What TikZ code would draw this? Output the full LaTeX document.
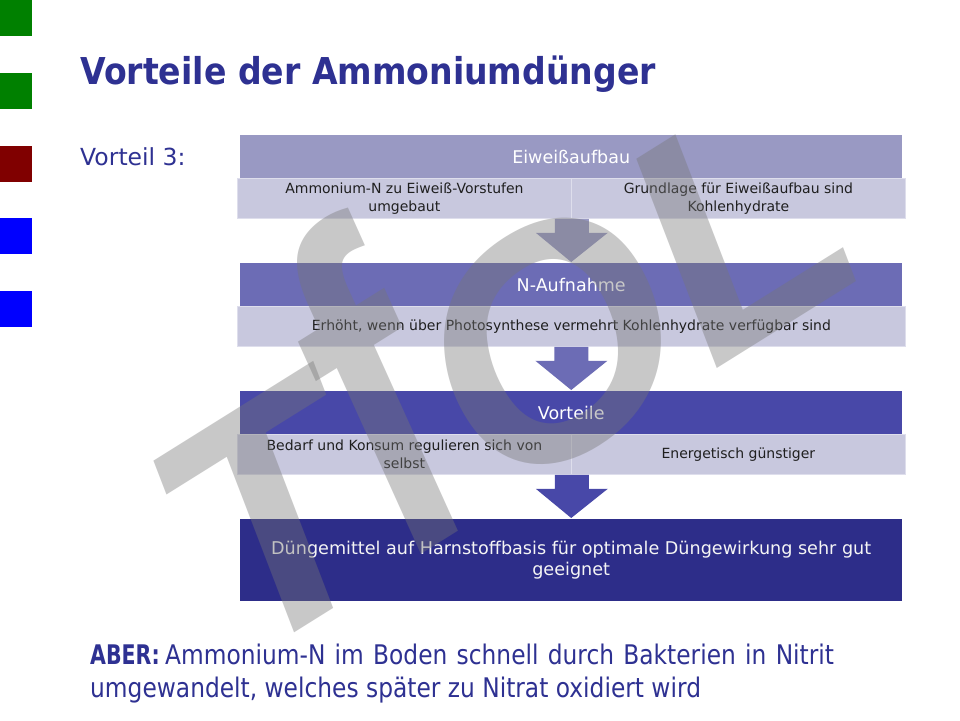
\documentclass[tikz,border=0pt]{standalone}
\usepackage{fontspec}
\setmainfont{DejaVu Sans}
\newfontfamily\titlefont[FakeStretch=0.895]{DejaVu Sans}
\newfontfamily\abreg[FakeStretch=0.864]{DejaVu Sans}
\newfontfamily\abbold[FakeStretch=0.76]{DejaVu Sans}
\newfontfamily\wmfont{Liberation Sans}
\usetikzlibrary{calc}
\definecolor{titleblue}{RGB}{46,49,146}
\definecolor{hA}{RGB}{153,153,195}
\definecolor{hB}{RGB}{108,108,181}
\definecolor{hC}{RGB}{72,72,168}
\definecolor{hD}{RGB}{45,45,137}
\definecolor{subc}{RGB}{200,200,222}
\definecolor{subline}{RGB}{222,222,236}
\definecolor{sqgreen}{RGB}{0,128,0}
\definecolor{sqred}{RGB}{128,0,0}
\definecolor{sqblue}{RGB}{0,0,255}
\definecolor{wmgray}{RGB}{118,118,118}
\newcommand\blockarr[3]{%
  \fill[#1] ([xshift=-17pt]#2) -- ([xshift=17pt]#2) -- ([xshift=17pt,yshift=-14pt]#2)
    -- ([xshift=36pt,yshift=-14pt]#2) -- ([yshift=1pt]#3)
    -- ([xshift=-36pt,yshift=-14pt]#2) -- ([xshift=-17pt,yshift=-14pt]#2) -- cycle;}
\begin{document}
\begin{tikzpicture}[x=1pt,y=-1pt,
  square/.style={minimum width=32pt, minimum height=36pt, inner sep=0pt, anchor=north west},
  hdr/.style={anchor=north west, minimum width=662pt, minimum height=43pt, inner sep=0pt,
    text=white, font=\fontsize{17.5}{20}\selectfont},
  cell/.style={anchor=north west, minimum height=40pt, inner sep=0pt, fill=subc,
    draw=subline, line width=0.8pt, text=black!88, align=center,
    font=\fontsize{14}{17.5}\selectfont},
  bluetext/.style={text=titleblue, inner sep=0pt, anchor=base west}
]
\useasboundingbox (0,0) rectangle (960,720);
\fill[white] (0,0) rectangle (960,720);
% side squares
\node[square, fill=sqgreen] (q1) at (0,0) {};
\node[square, fill=sqgreen] (q2) at (0,73) {};
\node[square, fill=sqred] (q3) at (0,146) {};
\node[square, fill=sqblue] (q4) at (0,218) {};
\node[square, fill=sqblue] (q5) at (0,291) {};
% title
\node[bluetext, font=\titlefont\bfseries\fontsize{37}{44}\selectfont] (title) at (80,84) {Vorteile der Ammoniumdünger};
\node[bluetext, font=\fontsize{23.5}{28}\selectfont] (v3) at (80,165) {Vorteil 3:};
% block 1
\node[hdr, fill=hA] (h1) at (240,135) {Eiweißaufbau};
\node[cell, minimum width=334pt] (c1a) at (237,178) {Ammonium-N zu Eiweiß-Vorstufen\\umgebaut};
\node[cell, minimum width=334pt] (c1b) at (571,178) {Grundlage für Eiweißaufbau sind\\Kohlenhydrate};
% block 2
\node[hdr, fill=hB] (h2) at (240,263) {N-Aufnahme};
\node[cell, minimum width=668pt] (c2) at (237,306) {Erhöht, wenn über Photosynthese vermehrt Kohlenhydrate verfügbar sind};
% block 3
\node[hdr, fill=hC] (h3) at (240,391) {Vorteile};
\node[cell, minimum width=334pt] (c3a) at (237,434) {Bedarf und Konsum regulieren sich von\\selbst};
\node[cell, minimum width=334pt] (c3b) at (571,434) {Energetisch günstiger};
% block 4
\node[anchor=north west, minimum width=662pt, minimum height=82pt, inner sep=0pt, fill=hD,
  text=white!96!black, align=center, font=\fontsize{17.6}{21}\selectfont] (h4) at (240,519)
  {Düngemittel auf Harnstoffbasis für optimale Düngewirkung sehr gut\\geeignet};
% arrows
\blockarr{hA}{c1a.south east}{h2.north}
\blockarr{hB}{c2.south}{h3.north}
\blockarr{hC}{c3a.south east}{h4.north}
% ABER text
\node[bluetext, font=\abreg\fontsize{27}{33}\selectfont] (aber1) at (90,664)
  {\spaceskip=1.25\fontdimen2\font {\abbold\bfseries ABER:}\hspace{0.2em}Ammonium-N im Boden schnell durch Bakterien in Nitrit};
\node[bluetext, font=\abreg\fontsize{27}{33}\selectfont] (aber2) at (90,697)
  {umgewandelt, welches später zu Nitrat oxidiert wird};
% watermark
\node[rotate=32, anchor=base, inner sep=0pt, text=wmgray, opacity=0.4,
  font=\wmfont\bfseries\itshape\fontsize{320}{320}\selectfont] (wm) at (562,466)
  {T\scalebox{1}[1.45]{f}OL};
\end{tikzpicture}
\end{document}
